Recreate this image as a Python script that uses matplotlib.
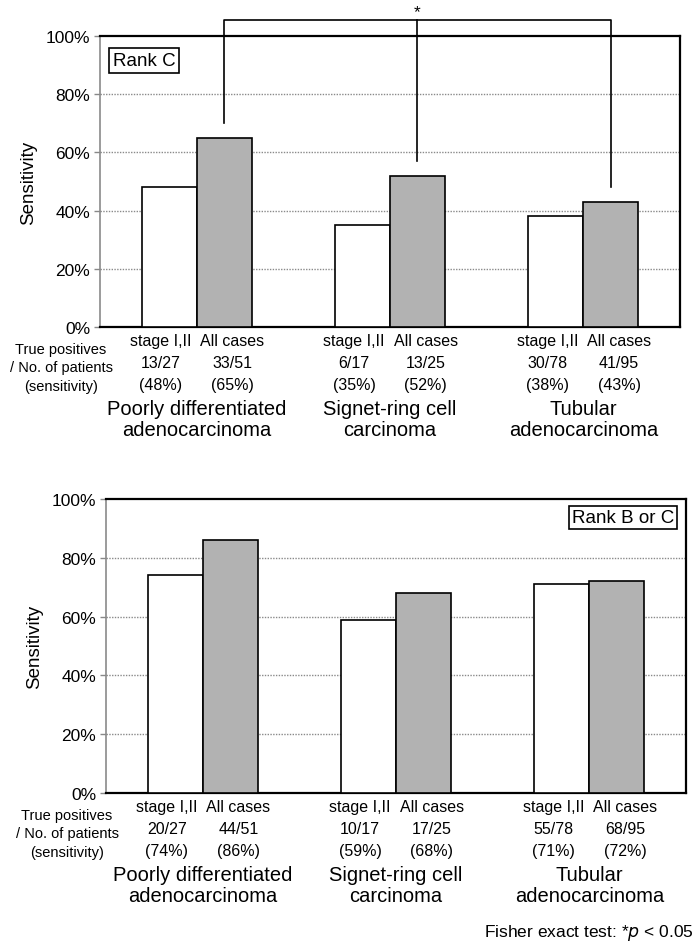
import matplotlib
matplotlib.use("Agg")
import matplotlib.pyplot as plt
from matplotlib.font_manager import fontManager

# ---- data -------------------------------------------------------------
categories = ["Poorly differentiated\nadenocarcinoma",
              "Signet-ring cell\ncarcinoma",
              "Tubular\nadenocarcinoma"]
series_names = ["stage I,II", "All cases"]

rank_c_stage = [48, 35, 38]
rank_c_all = [65, 52, 43]
rank_c_stage_frac = ["13/27", "6/17", "30/78"]
rank_c_all_frac = ["33/51", "13/25", "41/95"]

rank_bc_stage = [74, 59, 71]
rank_bc_all = [86, 68, 72]
rank_bc_stage_frac = ["20/27", "10/17", "55/78"]
rank_bc_all_frac = ["44/51", "17/25", "68/95"]

yticks = [0, 20, 40, 60, 80, 100]
ytick_labels = ["0%", "20%", "40%", "60%", "80%", "100%"]

# ---- styling ----------------------------------------------------------
names = {f.name for f in fontManager.ttflist}
main_font = "Liberation Sans" if "Liberation Sans" in names else "DejaVu Sans"
narrow_font = "Liberation Sans Narrow" if "Liberation Sans Narrow" in names else main_font
plt.rcParams["font.family"] = [main_font, "DejaVu Sans"]
FAM = [narrow_font, "DejaVu Sans"]

GRAY = "#b2b2b2"
W = 0.284
OFF = 0.142

fig = plt.figure(figsize=(6.99, 9.45), dpi=100)
ax1 = fig.add_axes([100 / 699, 1 - 328 / 945, 580 / 699, 291 / 945])
ax2 = fig.add_axes([106 / 699, 1 - 794 / 945, 580 / 699, 294 / 945])


def draw_panel(ax, stage, allc, stage_frac, all_frac, label, box_right):
    x = list(range(len(categories)))
    ax.bar([i - OFF for i in x], stage, width=W, color="white",
           edgecolor="black", linewidth=1.2, zorder=3)
    ax.bar([i + OFF for i in x], allc, width=W, color=GRAY,
           edgecolor="black", linewidth=1.2, zorder=3)
    ax.set_xlim(-0.5, len(categories) - 0.5)
    ax.set_ylim(0, 100)
    ax.set_yticks(yticks)
    ax.set_yticklabels(ytick_labels, fontsize=12.5)
    ax.set_xticks([])
    ax.tick_params(axis="y", direction="out", length=4, color="#888888",
                   width=1, pad=3)
    for yv in yticks[1:-1]:
        ax.axhline(yv, color="#8a8a8a", linestyle=(0, (1, 1)),
                   linewidth=1, zorder=1)
    for s in ("top", "right", "bottom"):
        ax.spines[s].set_color("black")
        ax.spines[s].set_linewidth(1.6)
    ax.spines["left"].set_color("#8a8a8a")
    ax.spines["left"].set_linestyle((0, (1, 1)))
    ax.spines["left"].set_linewidth(1.2)
    ax.set_ylabel("Sensitivity", fontsize=13.5, labelpad=6)

    trans = ax.get_xaxis_transform()
    for i in x:
        for dx, shift, name, frac, val in (
                (-OFF, -6, series_names[0], stage_frac[i], stage[i]),
                (OFF, 6, series_names[1], all_frac[i], allc[i])):
            for yoff, txt in ((-10, name), (-25.5, frac), (-41.5, f"({val}%)")):
                ax.annotate(txt, (i + dx, 0), xycoords=trans,
                            xytext=(shift, yoff), textcoords="offset points",
                            ha="center", va="center", fontsize=11.5,
                            family=FAM)
        ax.annotate(categories[i], (i, 0), xycoords=trans,
                    xytext=(0, -66), textcoords="offset points",
                    ha="center", va="center", fontsize=14.5,
                    linespacing=1.15, family=FAM)

    for k, txt in enumerate(["True positives", "/ No. of patients", "(sensitivity)"]):
        ax.annotate(txt, (-0.5, 0), xycoords=trans,
                    xytext=(-28, -15.5 - 13.5 * k), textcoords="offset points",
                    ha="center", va="center", fontsize=10.5, family=FAM)

    if box_right:
        ax.text(0.979, 0.965, label, transform=ax.transAxes, ha="right",
                va="top", fontsize=13.5,
                bbox=dict(boxstyle="square,pad=0.15", fc="white",
                          ec="black", lw=1.2), zorder=5)
    else:
        ax.text(0.022, 0.945, label, transform=ax.transAxes, ha="left",
                va="top", fontsize=13.5,
                bbox=dict(boxstyle="square,pad=0.2", fc="white",
                          ec="black", lw=1.2), zorder=5)


draw_panel(ax1, rank_c_stage, rank_c_all, rank_c_stage_frac, rank_c_all_frac,
           "Rank C", box_right=False)
draw_panel(ax2, rank_bc_stage, rank_bc_all, rank_bc_stage_frac, rank_bc_all_frac,
           "Rank B or C", box_right=True)

# significance bracket joining the "All cases" bars of the top panel
top_y = 105.5
legs = [(0 + OFF, rank_c_all[0] + 5), (1 + OFF, rank_c_all[1] + 5),
        (2 + OFF, rank_c_all[2] + 5)]
ax1.plot([legs[0][0], legs[0][0], legs[2][0], legs[2][0]],
         [legs[0][1], top_y, top_y, legs[2][1]],
         color="black", lw=1.2, clip_on=False, zorder=6)
ax1.plot([legs[1][0], legs[1][0]], [top_y, legs[1][1]],
         color="black", lw=1.2, clip_on=False, zorder=6)
ax1.text(legs[1][0], top_y + 0.3, "*", ha="center", va="bottom", fontsize=12.5)

fig.text(694 / 699, 1 - 933 / 945, r"Fisher exact test: *$p$ < 0.05",
         ha="right", va="center", fontsize=12.5, family=FAM)

fig.savefig("out.png", dpi=100)
